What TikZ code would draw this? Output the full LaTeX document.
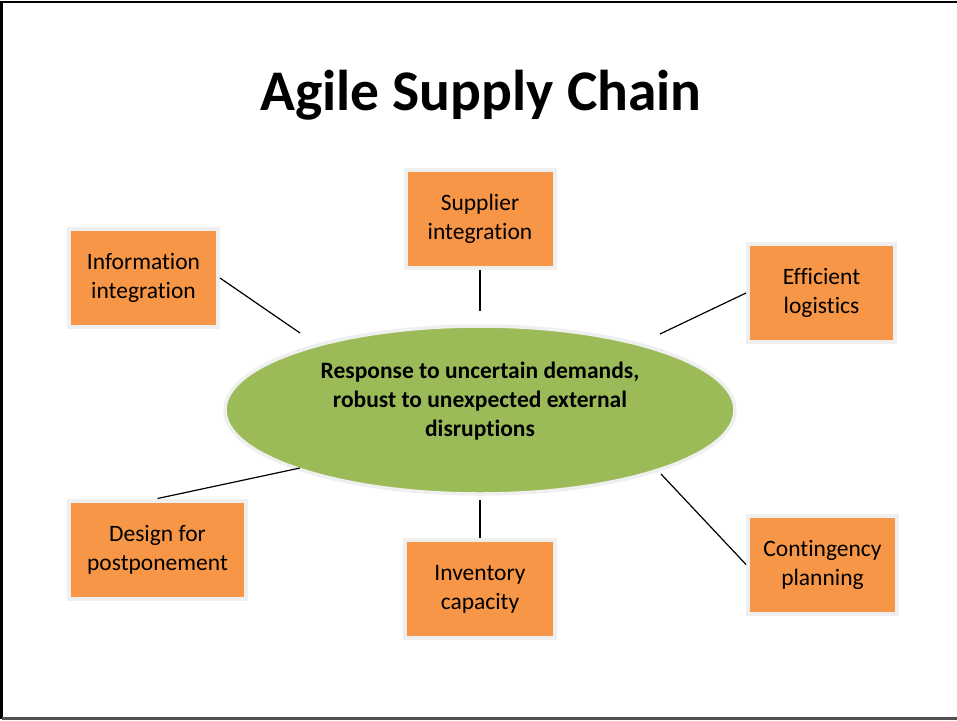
\documentclass[tikz,border=0pt]{standalone}
\usepackage{fontspec}
\setmainfont{Carlito}[Ligatures={NoCommon,NoRequired,NoContextual}]
\usetikzlibrary{shapes.geometric}
\definecolor{boxorange}{HTML}{F79646}
\definecolor{ellgreen}{HTML}{9BBB59}
\definecolor{rimgrey}{HTML}{EFEFEF}
\definecolor{framegrey}{HTML}{505050}
\tikzset{
  factor/.style={rectangle, fill=boxorange, draw=rimgrey, line width=4pt,
    inner sep=0pt, align=center, minimum height=98pt,
    font=\fontsize{23.5pt}{29pt}\selectfont},
  core/.style={ellipse, fill=ellgreen, draw=rimgrey, line width=3.5pt,
    inner sep=0pt, minimum width=510pt, minimum height=168pt},
  coretext/.style={align=center, font=\bfseries\fontsize{23.5pt}{29pt}\selectfont},
  link/.style={draw=black, line width=1.2pt},
  frameline/.style={line width=2.2pt}
}
\begin{document}
\begin{tikzpicture}[x=1pt,y=-1pt]
\useasboundingbox (0,0) rectangle (957,720);
% frame
\draw[frameline, black] (960,2) -- (1.5,2) -- (1.5,718.5);
\draw[frameline, framegrey] (1.5,718.5) -- (960,718.5);
% title
\node[anchor=base, inner sep=0pt, font=\bfseries\fontsize{57.5pt}{60pt}\selectfont] (title) at (481,110) {Agile Supply Chain};
% center
\node[core] (ell) at (480,410) {};
\node[coretext] (elltext) at (480,401) {Response to uncertain demands,\\robust to unexpected external\\disruptions};
% boxes
\node[factor, minimum width=149pt] (sup) at (480,219) {Supplier\\integration};
\node[factor, minimum width=149pt] (info) at (143.5,278) {Information\\integration};
\node[factor, minimum width=147pt] (eff) at (821.5,293) {Efficient\\logistics};
\node[factor, minimum width=177pt] (des) at (157.5,549.5) {Design for\\postponement};
\node[factor, minimum width=150pt] (inv) at (480,589) {Inventory\\capacity};
\node[factor, minimum width=149pt] (con) at (822.5,564.5) {Contingency\\planning};
% connector ends near the ellipse
\coordinate (eSup) at (480,311);
\coordinate (eInfo) at (300,333);
\coordinate (eEff) at (660,334);
\coordinate (eDes) at (300,468);
\coordinate (eInv) at (480,500);
\coordinate (eCon) at (661,474);
% connectors
\draw[link] (sup.south) -- (eSup);
\draw[link] (info.east) -- (eInfo);
\draw[link] (eff.west) -- (eEff);
\draw[link] (des.north) -- (eDes);
\draw[link] (inv.north) -- (eInv);
\draw[link] (con.west) -- (eCon);
\end{tikzpicture}
\end{document}
